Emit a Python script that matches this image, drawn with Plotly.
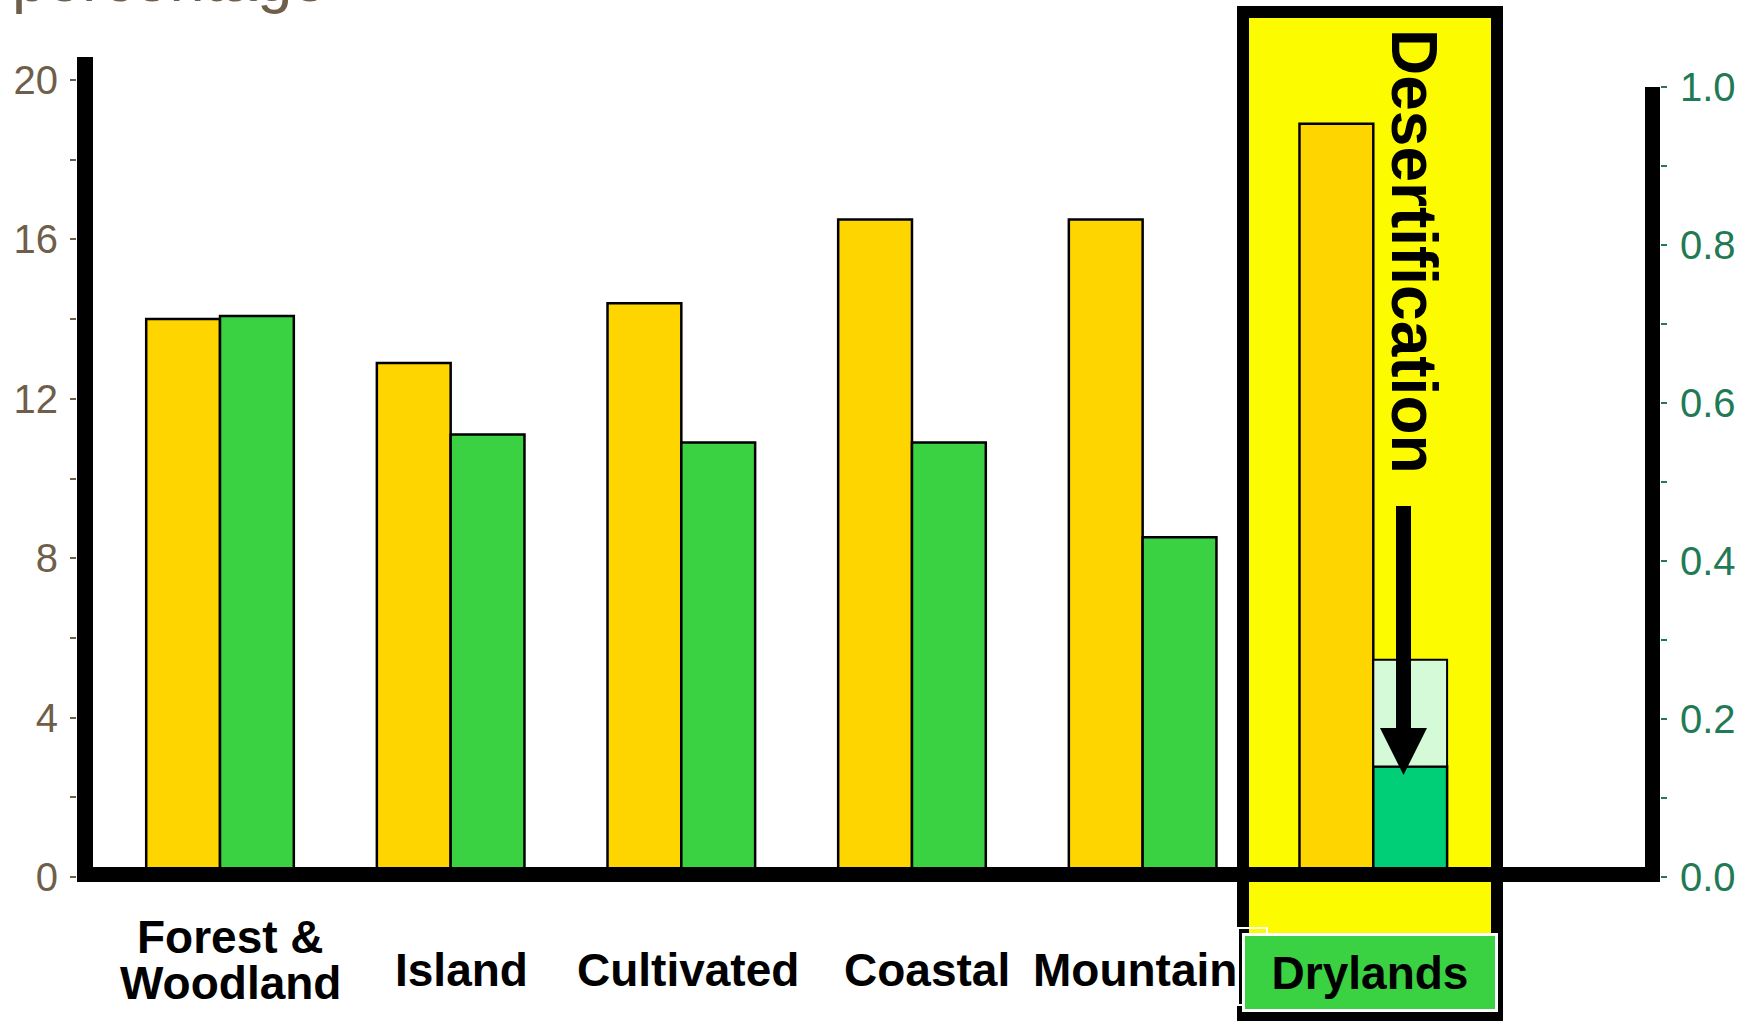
import plotly.graph_objects as go

W, H = 1757, 1021

# ---- data ----
categories = ["Forest &<br>Woodland", "Island", "Cultivated", "Coastal", "Mountain", "Drylands"]
percentage = [14.0, 12.9, 14.4, 16.5, 16.5, 18.9]        # left axis (yellow bars)
green_index = [0.71, 0.56, 0.55, 0.55, 0.43, 0.14]      # right axis (green bars); drylands = degraded level
drylands_original = 0.275                               # drylands level before desertification
left_ticks = [0, 4, 8, 12, 16, 20]
right_ticks = [0.0, 0.2, 0.4, 0.6, 0.8, 1.0]

# ---- styling ----
FONT = "Liberation Sans, Arial, Helvetica, sans-serif"
YELLOW = "#FFD500"
GREEN = "#3AD142"
DRY_GREEN = "#00CF78"
PALE_GREEN = "#D5FAD7"
HILITE = "#FDFB00"
BROWN = "#6F5E4A"
TEAL = "#1F7A55"


def px(x):
    return x / W


def py(y):
    return 1 - y / H


green_colors = [GREEN] * (len(categories) - 1) + [DRY_GREEN]
bar_w = 0.32

fig = go.Figure()

fig.add_trace(go.Bar(
    x=categories, y=percentage, yaxis="y",
    width=bar_w, offset=-bar_w,
    marker=dict(color=YELLOW, line=dict(color="black", width=2.5)),
    showlegend=False, hoverinfo="skip",
))
fig.add_trace(go.Bar(
    x=categories, y=green_index, yaxis="y2",
    width=bar_w, offset=0,
    marker=dict(color=green_colors, line=dict(color="black", width=2.5)),
    showlegend=False, hoverinfo="skip",
))
# portion of the drylands bar lost to desertification
fig.add_trace(go.Bar(
    x=[categories[-1]], y=[drylands_original - green_index[-1]], base=[green_index[-1]],
    yaxis="y2", width=bar_w, offset=0,
    marker=dict(color=PALE_GREEN, line=dict(color="black", width=2)),
    showlegend=False, hoverinfo="skip",
))

shapes = []
# highlight box around drylands
shapes.append(dict(type="rect", xref="paper", yref="paper", layer="below",
                   x0=px(1243), x1=px(1497), y0=py(1016), y1=py(12),
                   fillcolor=HILITE, line=dict(color="black", width=12)))
# heavy black frame lines
for x0, x1, y0, y1 in [(77, 93, 57, 882), (77, 1660, 867, 882), (1645, 1660, 87, 882)]:
    shapes.append(dict(type="rect", xref="paper", yref="paper", layer="above",
                       x0=px(x0), x1=px(x1), y0=py(y1), y1=py(y0),
                       fillcolor="black", line=dict(width=0)))
# arrow: shaft + head
shapes.append(dict(type="rect", xref="paper", yref="paper", layer="above",
                   x0=px(1396), x1=px(1411), y0=py(735), y1=py(506),
                   fillcolor="black", line=dict(width=0)))
shapes.append(dict(type="path", xref="paper", yref="paper", layer="above",
                   path=f"M {px(1380)},{py(728)} L {px(1427)},{py(728)} L {px(1403.5)},{py(775)} Z",
                   fillcolor="black", line=dict(width=0)))
# small white outline tab behind the drylands label
shapes.append(dict(type="rect", xref="paper", yref="paper", layer="above",
                   x0=px(1238), x1=px(1267), y0=py(1005), y1=py(928),
                   fillcolor="rgba(0,0,0,0)", line=dict(color="white", width=2)))

annotations = []
annotations.append(dict(text="percentage", xref="paper", yref="paper",
                        x=px(10), y=py(16), xanchor="left", yanchor="bottom",
                        showarrow=False, font=dict(family=FONT, size=63, color=BROWN)))
annotations.append(dict(text="Desertification", xref="paper", yref="paper",
                        x=px(1414), y=py(251), xanchor="center", yanchor="middle",
                        textangle=90, showarrow=False,
                        font=dict(family=FONT, size=64, color="black", weight="bold")))

# category labels under the axis
label_nudge = [10, 11, 7, 15, -8]
for i, cat in enumerate(categories[:-1]):
    lines = cat.split("<br>")
    n = len(lines)
    center = 960 if n > 1 else 970
    for j, line in enumerate(lines):
        annotations.append(dict(text=line, xref="x", yref="paper", x=cat,
                                y=py(center + (j - (n - 1) / 2) * 46),
                                xanchor="center", yanchor="middle", xshift=label_nudge[i],
                                showarrow=False,
                                font=dict(family=FONT, size=46, color="black", weight="bold")))
# drylands label in a green box
annotations.append(dict(text=categories[-1], xref="paper", yref="paper",
                        x=px(1370), y=py(972.5), xanchor="center", yanchor="middle",
                        width=248, height=71, bgcolor="#3AD142", bordercolor="white",
                        borderwidth=3, borderpad=1, showarrow=False,
                        font=dict(family=FONT, size=46, color="black", weight="bold")))

fig.update_layout(
    width=W, height=H,
    margin=dict(l=0, r=0, t=0, b=0, autoexpand=False),
    paper_bgcolor="white", plot_bgcolor="rgba(0,0,0,0)",
    barmode="overlay",
    xaxis=dict(type="category", domain=[px(77), px(1660)], range=[-0.62, 6.243],
               showticklabels=False, showgrid=False, zeroline=False, showline=False,
               ticks="", automargin=False),
    yaxis=dict(domain=[py(877), py(80)], range=[0, 20], tickvals=left_ticks,
               ticks="outside", ticklen=6, tickwidth=2, tickcolor=BROWN,
               minor=dict(dtick=2, ticks="outside", ticklen=6, tickwidth=2, tickcolor=BROWN),
               tickfont=dict(family=FONT, size=40, color=BROWN), ticklabelstandoff=4,
               showgrid=False, zeroline=False, showline=False, automargin=False),
    yaxis2=dict(overlaying="y", side="right", anchor="x",
                range=[0, 1.00886], tickvals=right_ticks, tickformat=".1f",
                ticks="outside", ticklen=6, tickwidth=2, tickcolor=TEAL,
                minor=dict(dtick=0.1, ticks="outside", ticklen=6, tickwidth=2, tickcolor=TEAL),
                tickfont=dict(family=FONT, size=40, color=TEAL), ticklabelstandoff=5,
                showgrid=False, zeroline=False, showline=False, automargin=False),
    shapes=shapes,
    annotations=annotations,
)

fig.write_html("out.html")
